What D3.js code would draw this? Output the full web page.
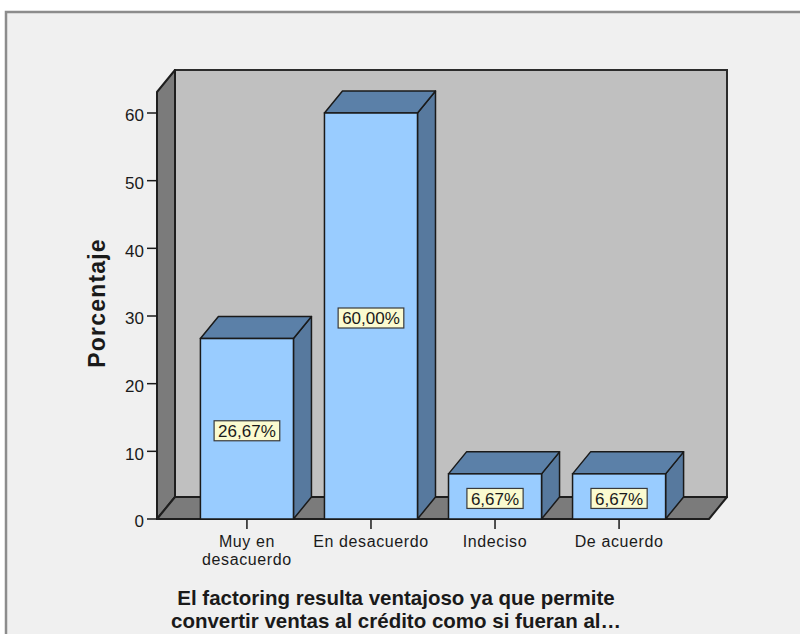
<!DOCTYPE html>
<html>
<head>
<meta charset="utf-8">
<script src="https://cdn.jsdelivr.net/npm/d3@7"></script>
<style>
  html, body { margin: 0; padding: 0; background: #ffffff; }
  svg { display: block; }
  text { font-family: "Liberation Sans", Arial, sans-serif; fill: #1a1a1a; }
</style>
</head>
<body>
<svg id="chart" width="800" height="634"></svg>
<script>
// Response categories and their percentages
const categories = ["Muy en desacuerdo", "En desacuerdo", "Indeciso", "De acuerdo"];
const categoryLines = [["Muy en", "desacuerdo"], ["En desacuerdo"], ["Indeciso"], ["De acuerdo"]];
const percentages = [26.67, 60.00, 6.67, 6.67];
const yTicks = [0, 10, 20, 30, 40, 50, 60];
const yTitle = "Porcentaje";
const xTitleLines = ["El factoring resulta ventajoso ya que permite",
                     "convertir ventas al crédito como si fueran al…"];

const svg = d3.select("#chart");

// Plot frame (front face of the 3D box) and depth offset
const left = 157, right = 709, bottom = 519, wallTop = 92;
const dx = 18, dy = 22;

const x = d3.scaleBand().domain(categories).range([left, right])
  .paddingInner(0.25).paddingOuter(0.35);
const y = d3.scaleLinear().domain([0, 60]).range([bottom, 113]);

const esLocale = d3.formatLocale({ decimal: ",", thousands: ".", grouping: [3], currency: ["", " €"] });
const fmtPct = v => esLocale.format(".2f")(v) + "%";

// Outer panel
svg.append("rect").attr("x", 6).attr("y", 12).attr("width", 820).attr("height", 660)
  .attr("fill", "#f0f0f0").attr("stroke", "#8c8c8c").attr("stroke-width", 2.5);

const poly = pts => pts.map(p => p.join(",")).join(" ");

// Back wall
svg.append("polygon")
  .attr("points", poly([[left + dx, wallTop - dy], [right + dx, wallTop - dy], [right + dx, bottom - dy], [left + dx, bottom - dy]]))
  .attr("fill", "#c0c0c0").attr("stroke", "#2b2b2b").attr("stroke-width", 2);
// Left wall
svg.append("polygon")
  .attr("points", poly([[left, wallTop], [left + dx, wallTop - dy], [left + dx, bottom - dy], [left, bottom]]))
  .attr("fill", "#7b7b7b").attr("stroke", "#1e1e1e").attr("stroke-width", 2).attr("stroke-linejoin", "round");
// Floor
svg.append("polygon")
  .attr("points", poly([[left, bottom], [left + dx, bottom - dy], [right + dx, bottom - dy], [right, bottom]]))
  .attr("fill", "#7b7b7b").attr("stroke", "#1e1e1e").attr("stroke-width", 2).attr("stroke-linejoin", "round");

// Bars
const bars = svg.append("g").selectAll("g").data(categories.map((c, i) => ({ c, v: percentages[i] })))
  .join("g");
bars.each(function(d) {
  const g = d3.select(this);
  const x0 = x(d.c), x1 = x0 + x.bandwidth(), yt = y(d.v), y0 = y(0);
  g.append("polygon")
    .attr("points", poly([[x1, yt], [x1 + dx, yt - dy], [x1 + dx, y0 - dy], [x1, y0]]))
    .attr("fill", "#57799e").attr("stroke", "#1a1a1a").attr("stroke-width", 1.5).attr("stroke-linejoin", "round");
  g.append("polygon")
    .attr("points", poly([[x0, yt], [x0 + dx, yt - dy], [x1 + dx, yt - dy], [x1, yt]]))
    .attr("fill", "#5b80a8").attr("stroke", "#1a1a1a").attr("stroke-width", 1.5).attr("stroke-linejoin", "round");
  g.append("rect")
    .attr("x", x0).attr("y", yt).attr("width", x1 - x0).attr("height", y0 - yt)
    .attr("fill", "#99ccff").attr("stroke", "#1a1a1a").attr("stroke-width", 1.5);
});

// Value labels in boxes at mid-height of each bar
bars.each(function(d) {
  const g = d3.select(this);
  const cx = x(d.c) + x.bandwidth() / 2;
  const cy = (y(d.v) + y(0)) / 2 + 2;
  const t = g.append("text").attr("x", cx).attr("y", cy).attr("text-anchor", "middle")
    .attr("dy", "0.36em").attr("font-size", 17).text(fmtPct(d.v));
  const bb = t.node().getBBox();
  g.insert("rect", "text")
    .attr("x", cx - bb.width / 2 - 4).attr("y", cy - 10)
    .attr("width", bb.width + 8).attr("height", 20)
    .attr("fill", "#fbfbd0").attr("stroke", "#3a3a3a").attr("stroke-width", 1.2);
});

// Y axis ticks and labels
const yAxis = svg.append("g");
yAxis.selectAll("line").data(yTicks).join("line")
  .attr("x1", left - 10).attr("x2", left).attr("y1", d => y(d)).attr("y2", d => y(d))
  .attr("stroke", "#1a1a1a").attr("stroke-width", 1.5);
yAxis.selectAll("text").data(yTicks).join("text")
  .attr("x", left - 13).attr("y", d => y(d) + 3).attr("dy", "0.32em")
  .attr("text-anchor", "end").attr("font-size", 17).text(d => d);

// X axis ticks and category labels
const xAxis = svg.append("g");
xAxis.selectAll("line").data(categories).join("line")
  .attr("x1", d => x(d) + x.bandwidth() / 2).attr("x2", d => x(d) + x.bandwidth() / 2)
  .attr("y1", bottom).attr("y2", bottom + 10)
  .attr("stroke", "#1a1a1a").attr("stroke-width", 1.5);
xAxis.selectAll("text").data(categories).join("text")
  .attr("x", d => x(d) + x.bandwidth() / 2).attr("y", 547)
  .attr("text-anchor", "middle").attr("font-size", 16).attr("letter-spacing", 0.6)
  .each(function(d, i) {
    d3.select(this).selectAll("tspan").data(categoryLines[i]).join("tspan")
      .attr("x", x(d) + x.bandwidth() / 2).attr("dy", (l, j) => j === 0 ? 0 : 18).text(l => l);
  });

// Axis titles
svg.append("text").attr("transform", "translate(105,303) rotate(-90)")
  .attr("text-anchor", "middle").attr("font-size", 23).attr("letter-spacing", 1.2)
  .attr("font-weight", "bold").text(yTitle);
svg.append("text").attr("x", 396).attr("y", 605).attr("text-anchor", "middle")
  .attr("font-size", 20.5).attr("font-weight", "bold")
  .selectAll("tspan").data(xTitleLines).join("tspan")
  .attr("x", 396).attr("dy", (l, j) => j === 0 ? 0 : 23).text(l => l);
</script>
</body>
</html>
